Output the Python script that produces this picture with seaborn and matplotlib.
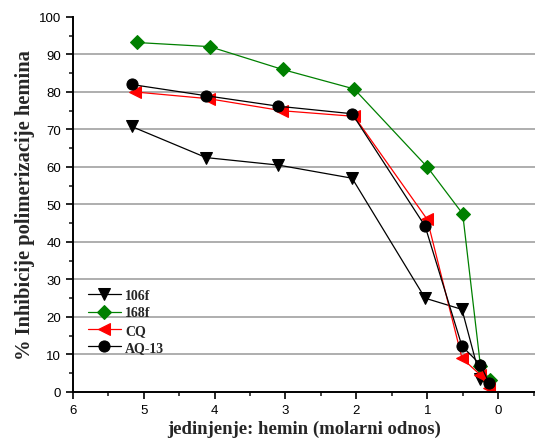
import matplotlib
matplotlib.use("Agg")
import matplotlib.pyplot as plt
from matplotlib.ticker import MultipleLocator
import seaborn as sns
import pandas as pd

# Molar ratio compound : hemin and % inhibition of hemin polymerization
x_106f = [5.17, 4.12, 3.10, 2.06, 1.03, 0.51, 0.25, 0.13]
y_106f = [70.8, 62.5, 60.5, 57.0, 25.0, 22.0, 3.5, 1.5]

x_168f = [5.10, 4.07, 3.04, 2.03, 1.00, 0.50, 0.25, 0.12]
y_168f = [93.2, 92.1, 86.0, 80.8, 60.0, 47.5, 7.0, 3.2]

x_cq = [5.12, 4.08, 3.05, 2.03, 1.00, 0.51, 0.25, 0.13]
y_cq = [80.0, 78.2, 75.0, 73.5, 46.0, 9.0, 4.5, 1.0]

x_aq13 = [5.17, 4.12, 3.10, 2.06, 1.03, 0.51, 0.25, 0.13]
y_aq13 = [82.0, 79.0, 76.2, 74.2, 44.2, 12.2, 7.3, 2.5]

series = [
    ("106f", x_106f, y_106f, "black", "v", 8),
    ("168f", x_168f, y_168f, "#008000", "D", 7),
    ("CQ", x_cq, y_cq, "#ff0000", "<", 8),
    ("AQ-13", x_aq13, y_aq13, "black", "o", 8),
]

sns.set_style("ticks")
plt.rcParams["font.family"] = ["Liberation Sans", "DejaVu Sans"]

fig = plt.figure(figsize=(5.35, 4.39), dpi=100)
ax = fig.add_axes([0.136, 0.105, 0.864, 0.854])

for name, xs, ys, col, mk, ms in series:
    df = pd.DataFrame({"x": xs, "y": ys})
    sns.lineplot(data=df, x="x", y="y", sort=False, ax=ax, color=col,
                 marker=mk, markersize=ms, markeredgecolor=col,
                 markerfacecolor=col, linewidth=0.9, label=name)

ax.set_xlim(6, -0.52)
ax.set_ylim(0, 100)
ax.xaxis.set_major_locator(MultipleLocator(1))
ax.xaxis.set_minor_locator(MultipleLocator(0.5))
ax.yaxis.set_major_locator(MultipleLocator(10))
ax.yaxis.set_minor_locator(MultipleLocator(5))
ax.tick_params(axis="both", which="major", direction="out", length=5,
               width=1.2, labelsize=9.5, colors="black")
ax.tick_params(axis="both", which="minor", direction="out", length=3,
               width=1.2)

for y in range(10, 100, 10):
    ax.axhline(y, color="#a8a8a8", linewidth=1.3, zorder=0)

for side in ("top", "right"):
    ax.spines[side].set_visible(False)
for side in ("left", "bottom"):
    ax.spines[side].set_linewidth(1.4)
    ax.spines[side].set_color("black")

serif = ["Liberation Serif", "DejaVu Serif"]
ax.set_xlabel("jedinjenje: hemin (molarni odnos)",
              fontdict=dict(family=serif, weight="bold", size=13.5),
              labelpad=3)
ax.set_ylabel("% Inhibicije polimerizacije hemina",
              fontdict=dict(family=serif, weight="bold", size=14.8),
              labelpad=3)

leg = ax.legend(loc="upper left", bbox_to_anchor=(0.005, 0.307),
                frameon=False,
                prop=dict(family=serif, weight="bold", size=10),
                handlelength=2.4, handletextpad=0.3, labelspacing=0.3)

fig.savefig("out.png", dpi=100)
